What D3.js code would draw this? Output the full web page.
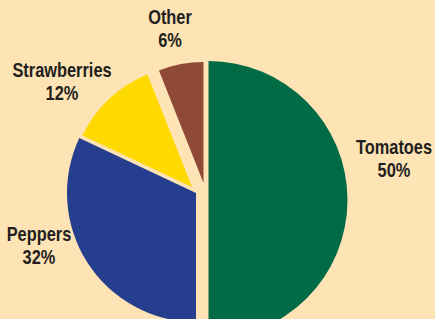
<!DOCTYPE html>
<html>
<head>
<meta charset="utf-8">
<script src="https://cdn.jsdelivr.net/npm/d3@7"></script>
<style>
  html, body { margin: 0; padding: 0; background: #fee3b4; }
  svg { display: block; }
  .label { font-family: "Liberation Sans", Arial, sans-serif; font-weight: bold; font-size: 20px; fill: #231f20; }
</style>
</head>
<body>
<svg id="chart" width="435" height="319"></svg>
<script>
// crop types and their share (%)
const categories = ["Tomatoes", "Peppers", "Strawberries", "Other"];
const shares = [50, 32, 12, 6];
const colors = ["#006b45", "#253f8e", "#ffda00", "#8e4a36"];

// where each exploded slice sits, and where its label goes
const layout = {
    Tomatoes:     { cx: 208.5, cy: 200, r: 139, lx: 394, ly: 154 },
    Peppers:      { cx: 196,   cy: 193, r: 129, lx: 39,  ly: 241 },
    Strawberries: { cx: 192,   cy: 187, r: 121, lx: 62,  ly: 77 },
    Other:        { cx: 203.5, cy: 183, r: 121, lx: 170, ly: 24 }
};

let svg = d3.select("#chart");

svg.append("rect")
    .attr("width", 435)
    .attr("height", 319)
    .attr("fill", "#fee3b4");

let pie = d3.pie()
    .sort(null)
    .value(function(d) { return d.value; });

let arcs = pie(categories.map(function(c, i) {
    return { name: c, value: shares[i], color: colors[i] };
}));

let slices = svg.selectAll("g.slice")
    .data(arcs)
    .enter()
    .append("g")
    .attr("class", "slice")
    .attr("transform", function(d) {
        let l = layout[d.data.name];
        return "translate(" + l.cx + "," + l.cy + ")";
    });

slices.append("path")
    .attr("d", function(d) {
        return d3.arc().innerRadius(0).outerRadius(layout[d.data.name].r)(d);
    })
    .attr("fill", function(d) { return d.data.color; });

// the reference type is a condensed face, so squeeze the text horizontally
let labels = svg.selectAll("text.label")
    .data(arcs)
    .enter()
    .append("text")
    .attr("class", "label")
    .attr("text-anchor", "middle")
    .attr("transform", function(d) {
        let l = layout[d.data.name];
        return "translate(" + l.lx + "," + l.ly + ") scale(0.82,1)";
    });

labels.append("tspan")
    .attr("x", 0)
    .attr("y", 0)
    .text(function(d) { return d.data.name; });

labels.append("tspan")
    .attr("x", 0)
    .attr("y", 23)
    .text(function(d) { return d.data.value + "%"; });
</script>
</body>
</html>
